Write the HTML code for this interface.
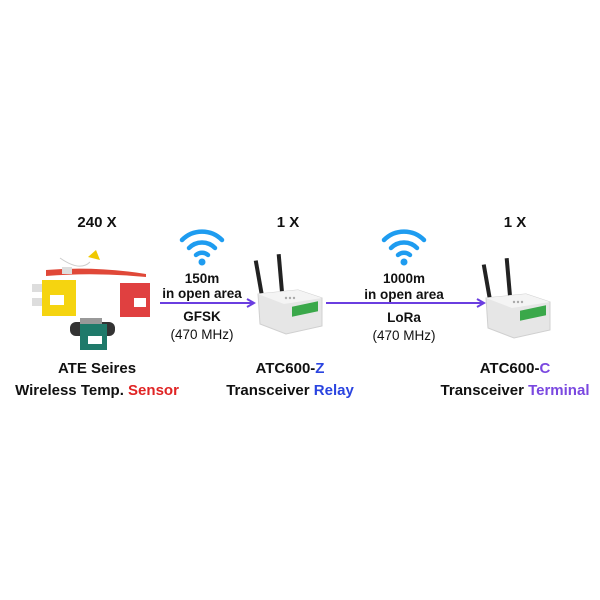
<!DOCTYPE html>
<html><head><style>
body{margin:0;width:600px;height:600px;background:#fff;position:relative;font-family:"Liberation Sans",sans-serif;overflow:hidden}
.t{position:absolute;transform:translateX(-50%);white-space:nowrap;font-weight:bold;font-size:15px;color:#111;line-height:1}
.n{font-weight:normal}
.s{font-size:13.5px}
</style></head><body>
<svg width="600" height="600" style="position:absolute;left:0;top:0">
<defs>
<g id="wifi" fill="none" stroke="#1e9cf0" stroke-width="4.5" stroke-linecap="round">
<path d="M-20,-8 A28,28 0 0 1 20,-8"/><path d="M-13,0 A18,18 0 0 1 13,0"/><path d="M-6,7 A9,9 0 0 1 6,7"/>
<circle cx="0" cy="14" r="3.5" fill="#1e9cf0" stroke="none"/></g>
<g id="dev">
<rect x="2" y="-8" width="4" height="36" fill="#222" transform="rotate(-10 4 28)"/>
<rect x="22" y="-14" width="4" height="38" fill="#222" transform="rotate(-5 24 24)"/>
<path d="M0,26 L40,22 L64,30 L64,58 L28,66 L2,56 Z" fill="#e6e6e6" stroke="#d0d0d0"/>
<path d="M0,26 L40,22 L64,30 L26,36 Z" fill="#f4f4f4"/>
<rect x="34" y="46" width="26" height="10" fill="#3aa84a" transform="skewY(-12)"/>
<circle cx="28" cy="30" r="1.2" fill="#aaa"/><circle cx="32" cy="30" r="1.2" fill="#aaa"/><circle cx="36" cy="30" r="1.2" fill="#aaa"/>
</g>
<marker id="ar" markerWidth="10" markerHeight="10" refX="8" refY="5" orient="auto" markerUnits="userSpaceOnUse"><path d="M1,1 L8,5 L1,9" fill="none" stroke="#6a3de0" stroke-width="2"/></marker>
</defs>
<use href="#wifi" x="202" y="248"/>
<use href="#wifi" x="404" y="248"/>
<line x1="160" y1="303" x2="254" y2="303" stroke="#6a3de0" stroke-width="2" marker-end="url(#ar)"/>
<line x1="326" y1="303" x2="484" y2="303" stroke="#6a3de0" stroke-width="2" marker-end="url(#ar)"/>
<use href="#dev" x="258" y="268"/>
<use href="#dev" x="486" y="272"/>
<path d="M60,258 Q80,272 90,262" fill="none" stroke="#ccc"/>
<path d="M88,257 L96,250 L100,260 Z" fill="#f0c800"/>
<path d="M46,270 Q95,266 146,274 L146,277 Q95,272 46,276 Z" fill="#e04838"/>
<rect x="62" y="267" width="10" height="7" fill="#ddd"/>
<rect x="32" y="284" width="16" height="8" fill="#ddd"/>
<rect x="32" y="298" width="16" height="8" fill="#ddd"/>
<rect x="42" y="280" width="34" height="36" fill="#f5d410"/>
<rect x="50" y="295" width="14" height="10" fill="#fff"/>
<rect x="120" y="283" width="30" height="34" fill="#e04040"/>
<rect x="134" y="298" width="12" height="9" fill="#fff"/>
<rect x="70" y="322" width="45" height="14" rx="6" fill="#333"/>
<rect x="80" y="318" width="22" height="6" fill="#999"/>
<rect x="80" y="324" width="27" height="26" fill="#1f7a6a"/>
<rect x="88" y="336" width="14" height="8" fill="#fff"/>
</svg>
<div class="t" style="left:97px;top:215px">240 X</div>
<div class="t" style="left:288px;top:215px">1 X</div>
<div class="t" style="left:515px;top:215px">1 X</div>
<div class="t s" style="left:202px;top:272px">150m</div>
<div class="t s" style="left:202px;top:287px">in open area</div>
<div class="t s" style="left:202px;top:310px">GFSK</div>
<div class="t s n" style="left:202px;top:328px">(470 MHz)</div>
<div class="t s" style="left:404px;top:272px">1000m</div>
<div class="t s" style="left:404px;top:288px">in open area</div>
<div class="t s" style="left:404px;top:311px">LoRa</div>
<div class="t s n" style="left:404px;top:329px">(470 MHz)</div>
<div class="t" style="left:97px;top:361px">ATE Seires</div>
<div class="t" style="left:97px;top:383px">Wireless Temp. <span style="color:#e02424">Sensor</span></div>
<div class="t" style="left:290px;top:361px">ATC600-<span style="color:#2a44e0">Z</span></div>
<div class="t" style="left:290px;top:383px">Transceiver <span style="color:#2a44e0">Relay</span></div>
<div class="t" style="left:515px;top:361px">ATC600-<span style="color:#7a48e0">C</span></div>
<div class="t" style="left:515px;top:383px">Transceiver <span style="color:#7a48e0">Terminal</span></div>
</body></html>
